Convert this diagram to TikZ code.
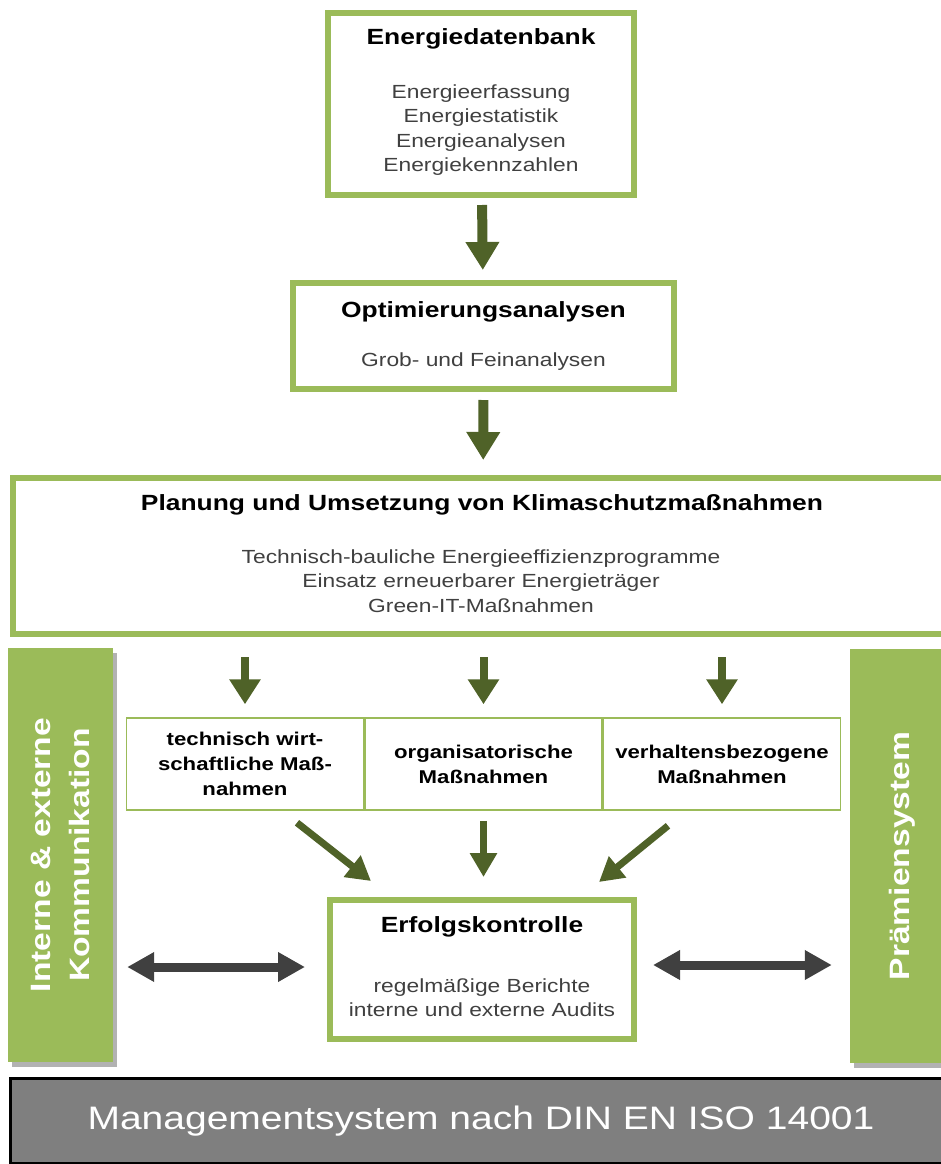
\documentclass[tikz,border=0pt]{standalone}
\usepackage{fontspec}
\setmainfont{Liberation Sans}[FakeStretch=1.2]
\usetikzlibrary{arrows.meta,calc,shadows}

\definecolor{lgreen}{HTML}{9BBB59}
\definecolor{dgreen}{HTML}{4F6228}
\definecolor{dgray}{HTML}{404040}
\definecolor{mgray}{HTML}{7F7F7F}

\newcommand{\headfont}{\fontsize{22}{26}\selectfont\bfseries}
\newcommand{\bodyfont}{\fontsize{19}{24.5}\selectfont\color{dgray}}

\begin{document}
\begin{tikzpicture}[x=1pt,y=-1pt,
    stage/.style={draw=lgreen,line width=6pt,fill=white,inner sep=0pt},
    cell/.style={draw=lgreen,line width=1.5pt,minimum width=237,minimum height=92,
        inner sep=0pt,align=center,font=\fontsize{18.5}{25}\selectfont\bfseries},
    sidebar/.style={fill=lgreen,rotate=90,minimum width=414,minimum height=105,inner sep=0pt,
        align=center,text=white,font=\fontsize{28}{39}\selectfont\bfseries,
        drop shadow={shadow xshift=4pt,shadow yshift=-5pt,fill=black!30,opacity=1}},
    head/.style={inner sep=0pt,font=\headfont},
    body/.style={inner sep=0pt,align=center,font=\bodyfont},
    fat/.style={draw=dgreen,line width=10pt,-{Triangle[width=32pt,length=28pt]}},
    slim/.style={draw=dgreen,line width=8pt,-{Triangle[width=30pt,length=25pt]}},
    slant/.style={draw=dgreen,line width=7pt,-{Triangle[width=26pt,length=24pt]}},
    both/.style={draw=dgray,line width=9pt,{Triangle[width=28pt,length=27pt]}-{Triangle[width=28pt,length=27pt]}}]

		\useasboundingbox (0,0) rectangle (940,1164);

		\node[stage,minimum width=306,minimum height=182] (db) at (481,104) {};
		\node[head] (db-head) at ([yshift=-29pt]db.north) {Energiedatenbank};
		\node[body] (db-body) at ([yshift=-26pt]db.center) {Energieerfassung\\Energiestatistik\\Energieanalysen\\Energiekennzahlen};

		\node[stage,minimum width=381,minimum height=106] (opt) at (483.5,336) {};
		\node[head] (opt-head) at ([yshift=24pt]opt.center) {Optimierungsanalysen};
		\node[body] (opt-body) at ([yshift=-26pt]opt.center) {Grob- und Feinanalysen};

		\node[stage,minimum width=940,minimum height=156] (plan) at (483,556) {};
		\node[head] (plan-head) at (482,505) {Planung und Umsetzung von Klimaschutzmaßnahmen};
		\node[body] (plan-body) at (481,581) {Technisch-bauliche Energieeffizienzprogramme\\Einsatz erneuerbarer Energieträger\\Green-IT-Maßnahmen};

		\draw[fat,shorten <=7pt,shorten >=10pt] (db) -- (opt);
		\draw[fat,shorten <=8pt,shorten >=15pt] (opt) -- (plan);

		\node[sidebar] (komm) at (60.5,855) {Interne \& externe\\Kommunikation};
		\node[sidebar] (praemie) at (902.5,856) {Prämiensystem};

		\node[cell] (tw) at (245,764) {technisch wirt-\\schaftliche Maß-\\nahmen};
		\node[cell,anchor=west] (org) at (tw.east) {organisatorische\\Maßnahmen};
		\node[cell,anchor=west] (verh) at (org.east) {verhaltensbezogene\\Maßnahmen};

		\draw[slim,shorten <=20pt,shorten >=13pt] (tw.north |- plan.south) -- (tw.north);
		\draw[slim,shorten <=20pt,shorten >=13pt] (org.north |- plan.south) -- (org.north);
		\draw[slim,shorten <=20pt,shorten >=13pt] (verh.north |- plan.south) -- (verh.north);

		\node[stage,minimum width=304,minimum height=139] (erf) at (482,969.5) {};
		\node[head] (erf-head) at ([yshift=42.5pt]erf.center) {Erfolgskontrolle};
		\node[body] (erf-body) at ([yshift=-28pt]erf.center) {regelmäßige Berichte\\interne und externe Audits};

		\draw[slant] ($(tw.south)+(52,12)$) -- ($(erf.north west)+(44,-16)$);
		\draw[slant,shorten <=10pt,shorten >=20pt] (org.south) -- (org.south |- erf.north);
		\draw[slant] ($(verh.south)+(-54,15)$) -- ($(erf.north east)+(-38,-15)$);

		\draw[both,shorten <=14pt,shorten >=22pt] (komm.south |- 0,967) -- (erf.west |- 0,967);
		\draw[both,shorten <=16pt,shorten >=18pt] (erf.east |- 0,965) -- (praemie.north |- 0,965);

		\node[draw=black,line width=3pt,fill=mgray,minimum width=941,minimum height=85,inner sep=0pt,
		      text=white,font=\fontsize{32.5}{38}\selectfont] (iso) at (481,1121) {Managementsystem nach DIN EN ISO 14001};
\end{tikzpicture}
\end{document}
